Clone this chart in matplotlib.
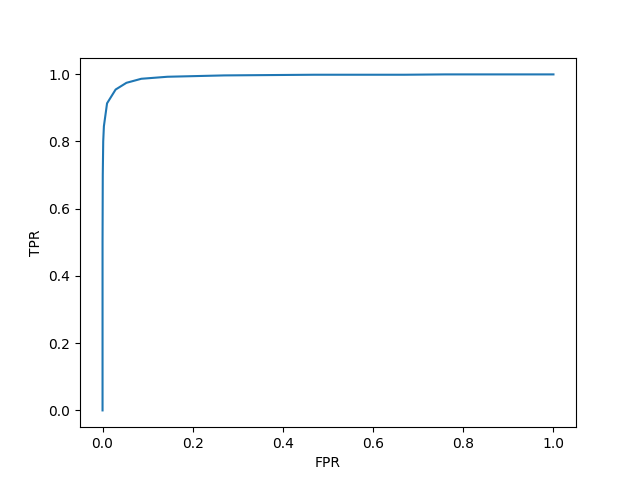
import matplotlib
matplotlib.use('Agg')
import matplotlib.pyplot as plt

# ROC curve points
fpr = [0.0, 0.0, 0.0005, 0.0015, 0.003, 0.01, 0.029, 0.053, 0.086, 0.144, 0.27, 0.47, 0.67, 0.76, 1.0]
tpr = [0.0, 0.5, 0.70, 0.80, 0.845, 0.913, 0.954, 0.974, 0.986, 0.992, 0.996, 0.998, 0.998, 0.999, 0.999]

plt.figure(figsize=(6.4, 4.8), dpi=100)
plt.plot(fpr, tpr)
plt.xlabel('FPR')
plt.ylabel('TPR')
plt.savefig('out.png')
